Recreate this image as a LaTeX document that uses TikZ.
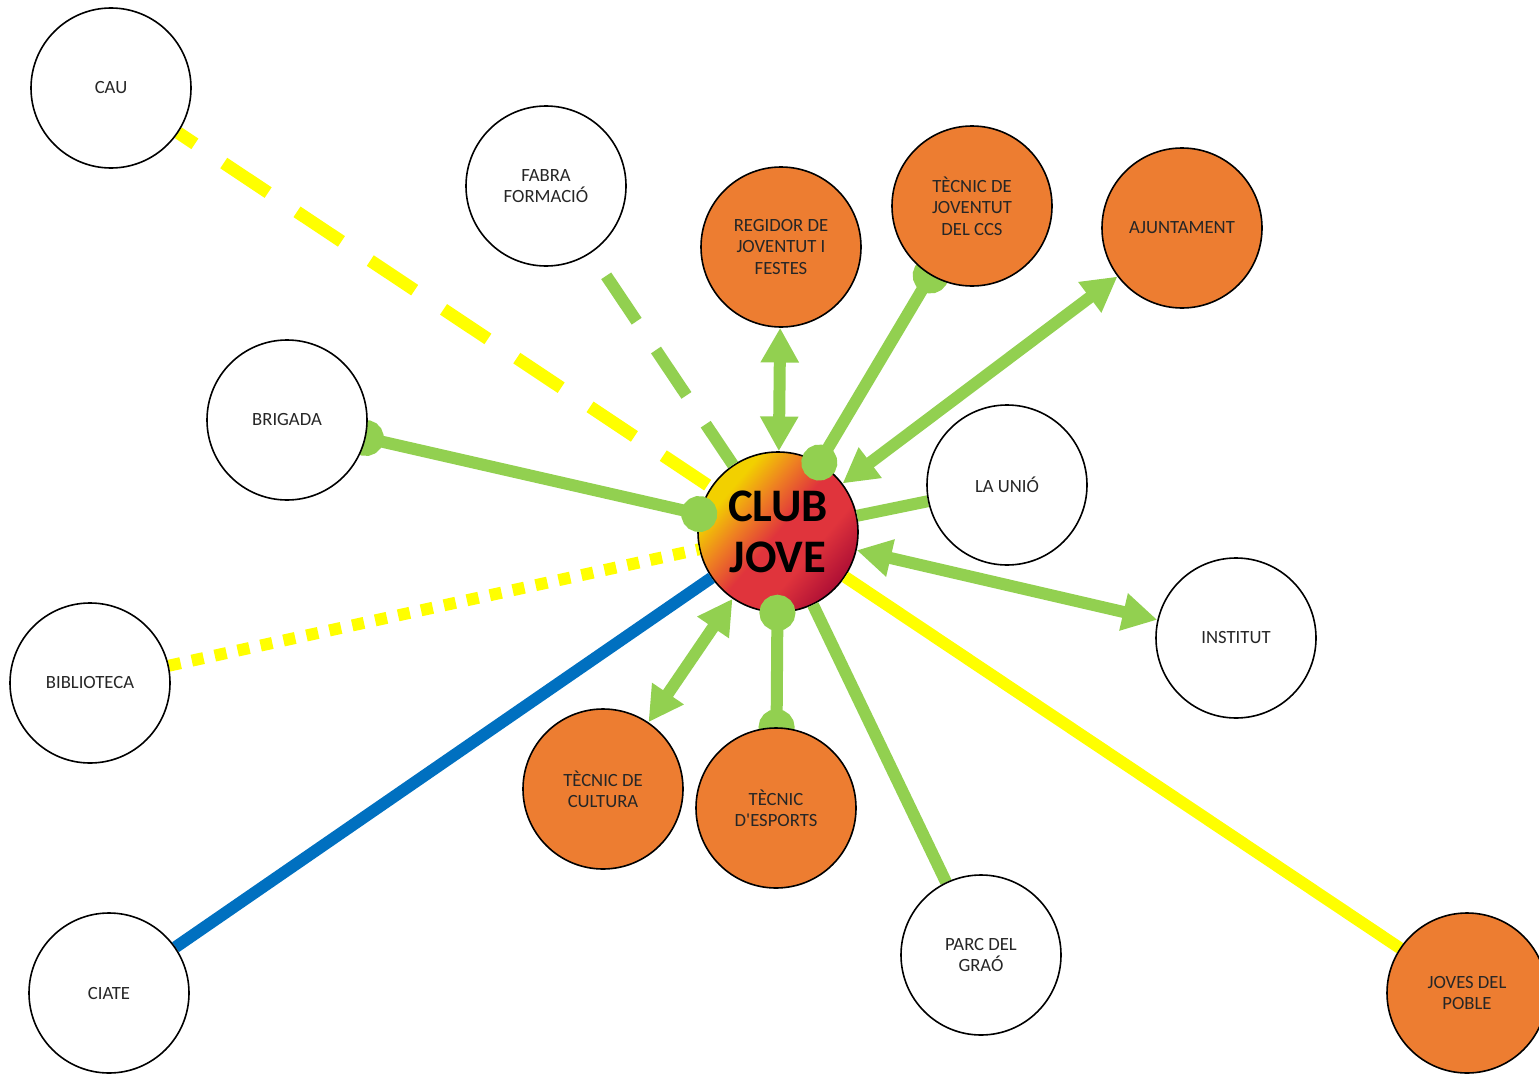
\documentclass[tikz,border=0pt]{standalone}
\usepackage{fontspec}
\setmainfont{Carlito}
\usetikzlibrary{arrows.meta}
\definecolor{linkgreen}{HTML}{92D050}
\definecolor{staffcol}{HTML}{ED7D31}
\definecolor{linkyellow}{HTML}{FFFF00}
\definecolor{linkblue}{HTML}{0070C0}
\definecolor{ballyellow}{HTML}{F2D000}
\definecolor{ballorange}{HTML}{EE7F22}
\definecolor{ballred}{HTML}{E0343C}
\definecolor{balldark}{HTML}{9A0032}
\pgfdeclarehorizontalshading{clubball}{100bp}{color(0bp)=(ballyellow); color(30bp)=(ballyellow); color(40bp)=(ballorange); color(50bp)=(ballred); color(62bp)=(ballred); color(80bp)=(balldark); color(100bp)=(balldark)}
\pgfdeclarelayer{hub}
\pgfdeclarelayer{links}
\pgfsetlayers{hub,links,main}
\tikzset{
  actor/.style={circle, draw=black, line width=1.2pt, minimum size=120pt, inner sep=0pt,
    align=center, text=black!85, font=\fontsize{14}{16}\selectfont},
  whitenode/.style={actor, fill=white},
  orangenode/.style={actor, fill=staffcol},
  hubnode/.style={circle, draw=black, line width=1.2pt, minimum size=120pt, inner sep=0pt,
    align=center, shading=clubball, shading angle=-40, font=\fontsize{35}{38}\selectfont\bfseries},
  link/.style={draw=linkgreen, line width=9pt},
  twoway/.style={link, {Triangle[length=26pt,width=27pt]}-{Triangle[length=26pt,width=27pt]}},
  dotlink/.style={link, {Circle[length=27pt]}-{Circle[length=27pt]}, shorten <=-13.5pt, shorten >=-13.5pt},
}
\begin{document}
\begin{tikzpicture}[x=0.75pt, y=-0.75pt]
  \useasboundingbox (0,0) rectangle (1539,1074);

  % centre
  \begin{pgfonlayer}{hub}
    \node[hubnode] (club) at (778,532) {CLUB\\JOVE};
  \end{pgfonlayer}

  % outer circles
  \node[whitenode] (cau) at (111,88) {CAU};
  \node[whitenode] (fabra) at (546,186) {FABRA\\FORMACIÓ};
  \node[orangenode] (regidor) at (781,247) {REGIDOR DE\\JOVENTUT I\\FESTES};
  \node[orangenode] (joventut) at (972,206) {TÈCNIC DE\\JOVENTUT\\DEL CCS};
  \node[orangenode] (ajuntament) at (1182,228) {AJUNTAMENT};
  \node[whitenode] (brigada) at (287,420) {BRIGADA};
  \node[whitenode] (unio) at (1007,485) {LA UNIÓ};
  \node[whitenode] (institut) at (1236,638) {INSTITUT};
  \node[whitenode] (biblioteca) at (90,683) {BIBLIOTECA};
  \node[orangenode] (cultura) at (603,789) {TÈCNIC DE\\CULTURA};
  \node[orangenode] (esports) at (776,808) {TÈCNIC\\D\textquotesingle ESPORTS};
  \node[whitenode] (parc) at (981,955) {PARC DEL\\GRAÓ};
  \node[whitenode] (ciate) at (109,993) {CIATE};
  \node[orangenode] (joves) at (1467,993) {JOVES DEL\\POBLE};

  % connectors
  \begin{pgfonlayer}{links}
    \draw[draw=linkyellow, line width=9.5pt, dash pattern=on 40pt off 26pt, dash phase=25pt] (cau) -- (club);
    \draw[link, dash pattern=on 41pt off 26pt, dash phase=46.5pt] (fabra) -- (club);
    \draw[draw=linkyellow, line width=9pt, dash pattern=on 9pt off 8.6pt] (biblioteca) -- (club);
    \draw[draw=linkblue, line width=9pt] (ciate) -- (club);
    \draw[draw=linkyellow, line width=9pt] (joves) -- (club);
    \draw[twoway] (regidor) -- (club);
    \draw[twoway] (ajuntament) -- (club);
    \draw[twoway] (institut) -- (club);
    \draw[twoway] (cultura) -- (club);
    \draw[dotlink] (joventut) -- (club);
    \draw[dotlink] (brigada) -- (club);
    \draw[dotlink] (esports) -- (club);
    \draw[link] (unio) -- (club);
    \draw[link] (parc) -- (club);
  \end{pgfonlayer}
\end{tikzpicture}
\end{document}
